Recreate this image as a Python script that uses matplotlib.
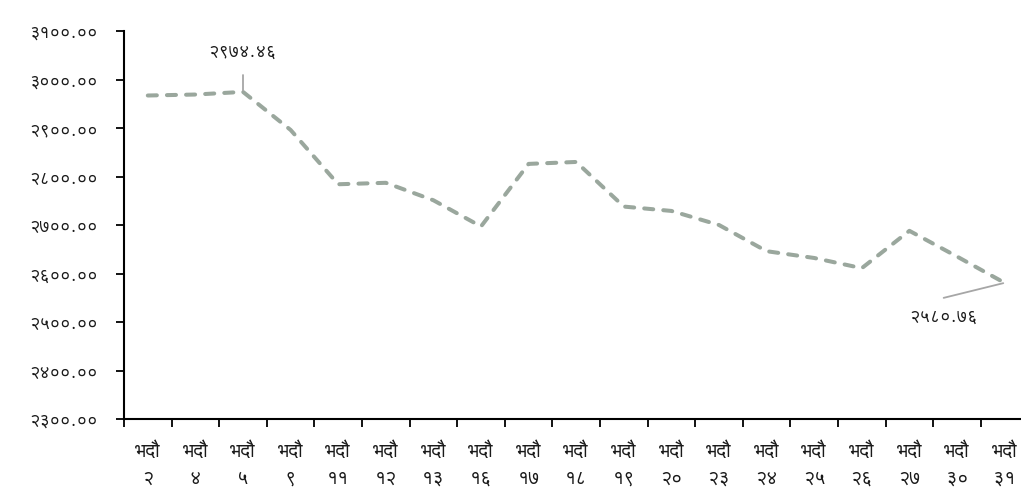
import matplotlib
matplotlib.use("Agg")
import matplotlib.pyplot as plt
from matplotlib import font_manager
from matplotlib.ticker import FixedLocator, FuncFormatter

# data
days = [2, 4, 5, 9, 11, 12, 13, 16, 17, 18, 19, 20, 23, 24, 25, 26, 27, 30, 31]
values = [2967, 2969, 2974.46, 2896, 2784, 2787, 2751, 2697, 2826, 2830,
          2738, 2729, 2700, 2646, 2632, 2611, 2688, 2635, 2580.76]
month = "भदौ"
y_ticks = [2300, 2400, 2500, 2600, 2700, 2800, 2900, 3000, 3100]

# western digits -> devanagari digits
DEV = str.maketrans("0123456789", "०१२३४५६७८९")

# Lohit looks closest to the reference font; use the exact registered name
lohit = [f.name for f in font_manager.fontManager.ttflist if f.name.startswith('Lohit')]
plt.rcParams['font.family'] = lohit[:1] + ['FreeSans', 'DejaVu Sans']

fig = plt.figure(figsize=(10.21, 4.97), dpi=100)
ax = fig.add_axes([124 / 1021, 78 / 497, 897 / 1021, 388 / 497])

x = list(range(len(days)))
ax.plot(x, values, color='#9aa79d', linewidth=2.9, linestyle=(0, (2.25, 2.5)),
        dash_capstyle='round', solid_joinstyle='round')

ax.set_xlim(-0.5, -0.5 + 897 / 47.6)
ax.set_ylim(2300, 3100)

ax.set_xticks(x)
ax.set_xticklabels([month + "\n" + str(d).translate(DEV) for d in days],
                   fontsize=14, color='#1a1a1a', linespacing=1.6)
ax.tick_params(axis='x', which='major', length=0, pad=17)
ax.xaxis.set_minor_locator(FixedLocator([i - 0.5 for i in range(len(days) + 1)]))
ax.tick_params(axis='x', which='minor', length=6, width=1.3, direction='out')

ax.set_yticks(y_ticks)
ax.yaxis.set_major_formatter(FuncFormatter(lambda v, p: ("%.2f" % v).translate(DEV)))
ax.tick_params(axis='y', length=6, width=1.3, direction='out', labelsize=13,
               labelcolor='#1a1a1a', pad=13)

for s in ['top', 'right']:
    ax.spines[s].set_visible(False)
for s in ['left', 'bottom']:
    ax.spines[s].set_linewidth(1.5)

# data labels for first peak and last point
i_max = values.index(max(values))
ax.annotate(("%.2f" % values[i_max]).translate(DEV), xy=(i_max, values[i_max]),
            xytext=(i_max, values[i_max] + 82), ha='center', va='center',
            fontsize=13, color='#1a1a1a',
            arrowprops=dict(arrowstyle='-', color='#a6a6a6', lw=1.3, shrinkA=8, shrinkB=1))

i_last = len(values) - 1
ax.annotate('', xy=(i_last, values[-1]), xytext=(i_last - 1.28, values[-1] - 31),
            arrowprops=dict(arrowstyle='-', color='#a6a6a6', lw=1.3, shrinkA=0, shrinkB=1))
ax.text(i_last - 1.28, values[-1] - 70, ("%.2f" % values[-1]).translate(DEV),
        ha='center', va='center', fontsize=13, color='#1a1a1a')

fig.savefig('out.png', dpi=100)
